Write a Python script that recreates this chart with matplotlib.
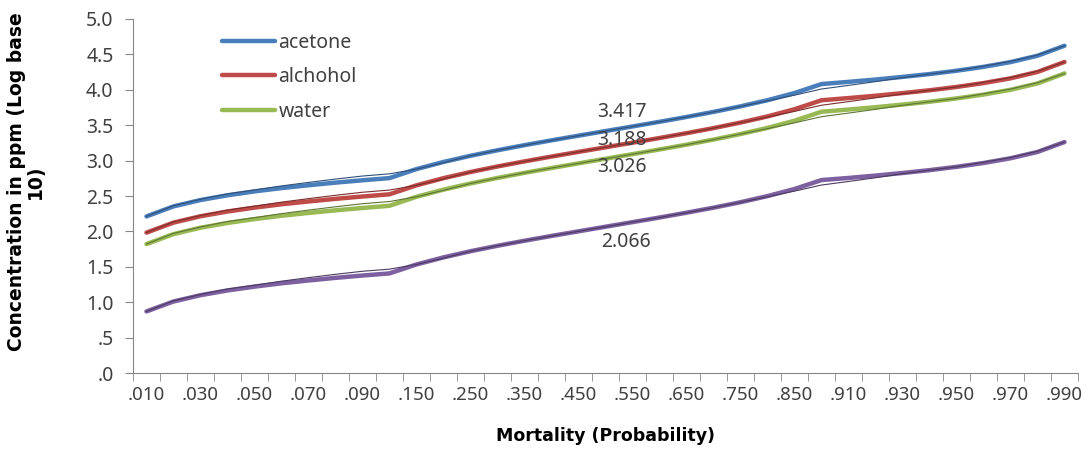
import numpy as np
import matplotlib.pyplot as plt

# mortality categories (probability)
mortality = ['.010', '.020', '.030', '.040', '.050', '.060', '.070', '.080', '.090', '.100',
             '.150', '.200', '.250', '.300', '.350', '.400', '.450', '.500', '.550', '.600',
             '.650', '.700', '.750', '.800', '.850', '.900', '.910', '.920', '.930', '.940',
             '.950', '.960', '.970', '.980', '.990']

# log10 concentration (ppm) - observed lines
acetone = [2.212, 2.353, 2.443, 2.510, 2.565, 2.612, 2.652, 2.689, 2.722, 2.753,
           2.880, 2.981, 3.068, 3.146, 3.218, 3.286, 3.352, 3.417, 3.482, 3.548,
           3.616, 3.688, 3.766, 3.853, 3.954, 4.081, 4.112, 4.145, 4.182, 4.222,
           4.269, 4.324, 4.391, 4.481, 4.622]
alchohol = [1.983, 2.124, 2.214, 2.281, 2.336, 2.383, 2.423, 2.460, 2.493, 2.524,
            2.651, 2.752, 2.839, 2.917, 2.989, 3.057, 3.123, 3.188, 3.253, 3.319,
            3.387, 3.459, 3.537, 3.624, 3.725, 3.852, 3.883, 3.916, 3.953, 3.993,
            4.040, 4.095, 4.162, 4.252, 4.393]
water = [1.821, 1.962, 2.052, 2.119, 2.174, 2.221, 2.261, 2.298, 2.331, 2.362,
         2.489, 2.590, 2.677, 2.755, 2.827, 2.895, 2.961, 3.026, 3.091, 3.157,
         3.225, 3.297, 3.375, 3.462, 3.563, 3.690, 3.721, 3.754, 3.791, 3.831,
         3.878, 3.933, 4.000, 4.090, 4.231]
fourth = [0.870, 1.010, 1.099, 1.166, 1.220, 1.267, 1.307, 1.344, 1.377, 1.407,
          1.533, 1.633, 1.720, 1.797, 1.868, 1.936, 2.001, 2.066, 2.131, 2.196,
          2.264, 2.335, 2.412, 2.499, 2.599, 2.725, 2.755, 2.788, 2.825, 2.865,
          2.912, 2.966, 3.033, 3.122, 3.262]

# trend lines (thin)
acetone_tr = [2.212, 2.363, 2.453, 2.530, 2.585, 2.642, 2.692, 2.739, 2.782, 2.813,
              2.880, 2.971, 3.068, 3.146, 3.218, 3.286, 3.352, 3.417, 3.482, 3.548,
              3.616, 3.688, 3.766, 3.843, 3.924, 4.011, 4.062, 4.115, 4.172, 4.222,
              4.269, 4.334, 4.401, 4.491, 4.622]
alchohol_tr = [1.983, 2.134, 2.224, 2.301, 2.356, 2.413, 2.463, 2.510, 2.553, 2.584,
               2.651, 2.742, 2.839, 2.917, 2.989, 3.057, 3.123, 3.188, 3.253, 3.319,
               3.387, 3.459, 3.537, 3.614, 3.695, 3.782, 3.833, 3.886, 3.943, 3.993,
               4.040, 4.105, 4.172, 4.262, 4.393]
water_tr = [1.821, 1.972, 2.062, 2.139, 2.194, 2.251, 2.301, 2.348, 2.391, 2.422,
            2.489, 2.580, 2.677, 2.755, 2.827, 2.895, 2.961, 3.026, 3.091, 3.157,
            3.225, 3.297, 3.375, 3.452, 3.533, 3.620, 3.671, 3.724, 3.781, 3.831,
            3.878, 3.943, 4.010, 4.100, 4.231]
fourth_tr = [0.870, 1.020, 1.109, 1.186, 1.240, 1.297, 1.347, 1.394, 1.437, 1.467,
             1.533, 1.623, 1.720, 1.797, 1.868, 1.936, 2.001, 2.066, 2.131, 2.196,
             2.264, 2.335, 2.412, 2.489, 2.569, 2.655, 2.705, 2.758, 2.815, 2.865,
             2.912, 2.976, 3.043, 3.132, 3.262]

lc50_index = 17  # the .500 category
lc50_labels = ['3.417', '3.188', '3.026', '2.066']

plt.rcParams['font.family'] = ['Noto Sans', 'DejaVu Sans']

fig = plt.figure(figsize=(10.89, 4.51), dpi=100)
ax = fig.add_axes([0.1221, 0.1729, 0.8678, 0.785])

x = np.arange(len(mortality))

series = [
    ('acetone', acetone, acetone_tr, '#4A7EBB', '#2E4F78'),
    ('alchohol', alchohol, alchohol_tr, '#BE4B48', '#7A2E2C'),
    ('water', water, water_tr, '#98B954', '#5E7534'),
    ('_nolegend_', fourth, fourth_tr, '#7D60A0', '#4A3A60'),
]
for name, vals, trend, col, dark in series:
    ax.plot(x, vals, color=col, lw=3.2, label=name, solid_capstyle='round', zorder=2)
    ax.plot(x, trend, color=dark, lw=0.8, zorder=3)

# data labels at LC50
offsets = [(12, 14), (12, 5), (12, -6), (15, -11)]
for (name, vals, trend, col, dark), lab, off in zip(series, lc50_labels, offsets):
    ax.annotate(lab, (x[lc50_index], vals[lc50_index]), xytext=off,
                textcoords='offset points', ha='center', va='center',
                fontsize=14, color='#404040', zorder=4)

ax.set_xlim(-0.5, len(mortality) - 0.5)
ax.set_ylim(0, 5)
ax.set_yticks(np.arange(0, 5.01, 0.5))
ax.set_yticklabels(['.0', '.5', '1.0', '1.5', '2.0', '2.5', '3.0', '3.5', '4.0', '4.5', '5.0'])

ax.set_xticks(x[::2])
ax.set_xticklabels(mortality[::2])
ax.set_xticks(np.arange(-0.5, len(mortality)), minor=True)
ax.tick_params(axis='x', which='major', length=0, pad=9, labelsize=13.5, colors='#404040')
ax.tick_params(axis='x', which='minor', length=6, direction='out', color='#868686')
ax.tick_params(axis='y', length=6, direction='out', color='#868686', pad=8,
               labelsize=14, labelcolor='#404040')

for s in ['top', 'right']:
    ax.spines[s].set_visible(False)
for s in ['left', 'bottom']:
    ax.spines[s].set_color('#868686')

ax.set_xlabel('Mortality (Probability)', fontsize=12.5, fontweight='bold',
              family='DejaVu Sans', labelpad=17)
ax.set_ylabel('Concentration in ppm (Log base\n10)', fontsize=13.5, fontweight='bold',
              family='DejaVu Sans', linespacing=1.0)
ax.yaxis.set_label_coords(-0.093, 0.54)

ax.legend(loc='upper left', bbox_to_anchor=(0.08, 1.0), frameon=False, fontsize=14,
          handlelength=2.7, handletextpad=0.2, labelspacing=0.75, borderaxespad=0.3,
          labelcolor='#404040')

fig.savefig('out.png', dpi=100)
